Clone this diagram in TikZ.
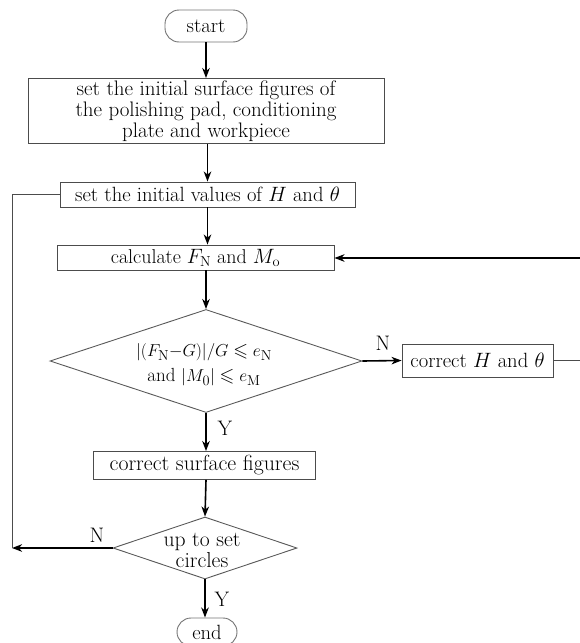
\documentclass[tikz,border=0pt]{standalone}
\usepackage{amsmath,amssymb}
\usetikzlibrary{shapes.geometric,arrows.meta}
\begin{document}
\begin{tikzpicture}[x=1pt,y=-1pt,
  font=\fontsize{20.6}{21}\selectfont,
  box/.style={draw=black!70,line width=0.9pt,inner sep=0pt,align=center},
  term/.style={draw=black!55,line width=0.9pt,rounded corners=14pt,inner sep=0pt},
  dec/.style={draw=black!65,line width=0.9pt,shape=diamond,inner sep=0pt},
  txt/.style={inner sep=0pt,align=center},
  arr/.style={line width=1.6pt,-{Stealth[length=10pt,width=7.5pt,inset=3pt]}},
  thin/.style={draw=black!70,line width=0.9pt},
  lab/.style={inner sep=0pt,font=\fontsize{21}{22}\selectfont}]
\useasboundingbox (0,0) rectangle (580,643);
\node[term,minimum width=82pt,minimum height=32pt] (start) at (206,26) {start};
\node[box,minimum width=356pt,minimum height=65pt,font=\fontsize{21}{21}\selectfont] (b1) at (206,111)
  {set the initial surface figures of\\the polishing pad, conditioning\\plate and workpiece};
\node[box,minimum width=295pt,minimum height=25pt] (b2) at (207.5,194.5)
  {set the initial values of $H$ and $\theta$};
\node[box,minimum width=277pt,minimum height=25pt,font=\fontsize{20}{21}\selectfont] (b3) at (195.5,257.5)
  {calculate $F_{\mathrm{N}}$ and $M_{\mathrm{o}}$};
\node[dec,minimum width=312pt,minimum height=103pt] (d1) at (206,361) {};
\node[txt,font=\fontsize{19}{21}\selectfont] (d1t) at (204,365)
  {$\lvert(F_{\mathrm{N}}{-}G)\rvert/G\leqslant e_{\mathrm{N}}$\\[4pt]and $\lvert M_0\rvert\leqslant e_{\mathrm{M}}$};
\node[box,minimum width=151pt,minimum height=33pt] (b4) at (477.5,360.5)
  {correct $H$ and $\theta$};
\node[box,minimum width=222pt,minimum height=28pt,font=\fontsize{21.8}{22}\selectfont] (b5) at (204.5,465.5)
  {correct surface figures};
\node[dec,minimum width=184pt,minimum height=62pt] (d2) at (205,548) {};
\node[txt,font=\fontsize{21.6}{21}\selectfont] (d2t) at (202,550) {up to set\\circles};
\node[term,minimum width=60pt,minimum height=28pt] (end) at (207,632) {end};
\coordinate (r1) at (580,360.5);
\coordinate (r2) at (580,258);
\coordinate (l1) at (12,194.5);
\coordinate (l2) at (12,548);
\draw[arr] (start.south) -- (start.south |- b1.north);
\draw[arr] (b1.south -| b2.south) -- (b2.south |- b2.north);
\draw[arr] (b2.south) -- (b2.south |- b3.north);
\draw[arr] (d1.north |- b3.south) -- (d1.north);
\draw[arr] (d1.east) -- (b4.west);
\draw[thin] (b4.east) -- (r1);
\draw[arr] (r2) -- (b3.east |- r2);
\draw[arr] (d1.south) -- (d1.south |- b5.north);
\draw[arr] (d1.south |- b5.south) -- (d2.north);
\draw[arr] (d2.west) -- (l2);
\draw[thin] (b2.west) -- (l1) -- (l2);
\draw[arr] (d2.south) -- (d2.south |- end.north);
\node[lab] (nN1) at (383,343) {N};
\node[lab] (nY1) at (225,428) {Y};
\node[lab] (nN2) at (97,535) {N};
\node[lab] (nY2) at (222,599) {Y};
\end{tikzpicture}
\end{document}
